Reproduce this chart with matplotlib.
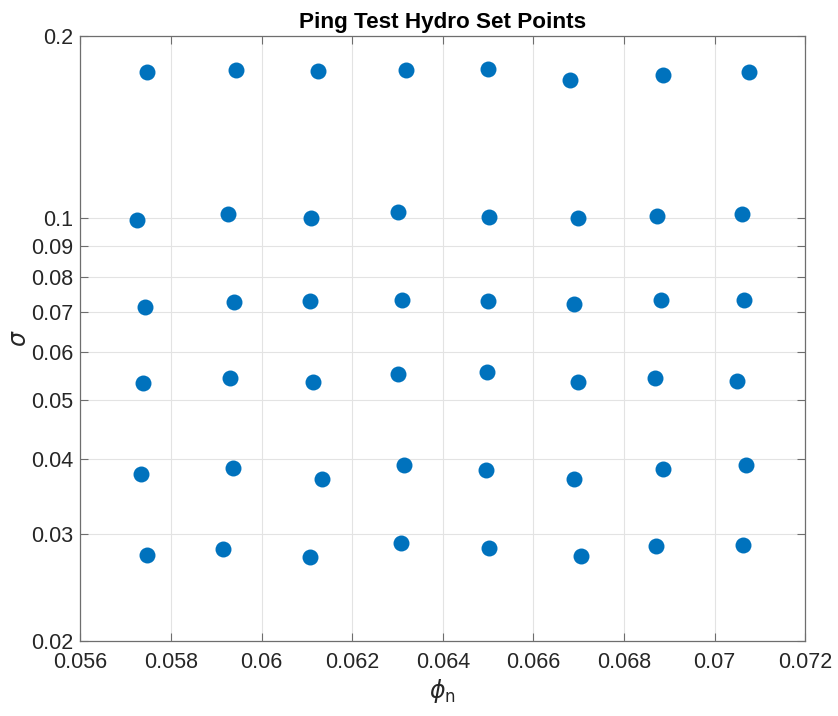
import matplotlib
matplotlib.use("Agg")
import matplotlib.pyplot as plt
from matplotlib.ticker import NullLocator

# Hydro set points: flow coefficient phi_n vs cavitation number sigma
phi_n = [
    0.05747, 0.05944, 0.06125, 0.06319, 0.06500, 0.06680, 0.06886, 0.07076,
    0.05725, 0.05927, 0.06109, 0.06302, 0.06502, 0.06699, 0.06872, 0.07061,
    0.05742, 0.05940, 0.06108, 0.06309, 0.06500, 0.06689, 0.06881, 0.07065,
    0.05738, 0.05930, 0.06114, 0.06302, 0.06498, 0.06698, 0.06869, 0.07049,
    0.05734, 0.05938, 0.06133, 0.06314, 0.06495, 0.06690, 0.06886, 0.07068,
    0.05747, 0.05916, 0.06106, 0.06308, 0.06501, 0.06706, 0.06871, 0.07063,
]
sigma = [
    0.1746, 0.1755, 0.1752, 0.1759, 0.1762, 0.1692, 0.1726, 0.1742,
    0.0994, 0.1016, 0.0999, 0.1023, 0.1004, 0.0999, 0.1009, 0.1014,
    0.0712, 0.0727, 0.0730, 0.0732, 0.0730, 0.0720, 0.0731, 0.0732,
    0.0533, 0.0544, 0.0537, 0.0552, 0.0557, 0.0536, 0.0544, 0.0538,
    0.0377, 0.0386, 0.0371, 0.0391, 0.0383, 0.0371, 0.0385, 0.0391,
    0.0277, 0.0284, 0.0275, 0.0290, 0.0285, 0.0276, 0.0287, 0.0288,
]

x_ticks = [0.056, 0.058, 0.060, 0.062, 0.064, 0.066, 0.068, 0.070, 0.072]
x_labels = ['0.056', '0.058', '0.06', '0.062', '0.064', '0.066', '0.068', '0.07', '0.072']
y_ticks = [0.02, 0.03, 0.04, 0.05, 0.06, 0.07, 0.08, 0.09, 0.1, 0.2]
y_labels = ['0.02', '0.03', '0.04', '0.05', '0.06', '0.07', '0.08', '0.09', '0.1', '0.2']

plt.rcParams['font.family'] = ['Liberation Sans', 'DejaVu Sans']

axis_color = '#262626'

fig = plt.figure(figsize=(8.38, 7.16), dpi=100)
ax = fig.add_axes([0.0958, 0.1047, 0.8652, 0.845])

ax.plot(phi_n, sigma, 'o', color='#0072BD', markersize=11.5, markeredgewidth=0)

ax.set_yscale('log')
ax.set_xlim(0.056, 0.072)
ax.set_ylim(0.02, 0.2)
ax.set_xticks(x_ticks)
ax.set_xticklabels(x_labels)
ax.set_yticks(y_ticks)
ax.set_yticklabels(y_labels)
ax.yaxis.set_minor_locator(NullLocator())

ax.grid(True, color='#e3e3e3', linewidth=0.8)
ax.set_axisbelow(True)
ax.tick_params(axis='both', direction='in', length=6, width=0.8,
               top=True, right=True, labelsize=15.5, colors=axis_color)
ax.tick_params(axis='x', pad=8)
ax.tick_params(axis='y', pad=5)
ax.tick_params(colors='#6e6e6e', labelcolor=axis_color)
for spine in ax.spines.values():
    spine.set_color('#6e6e6e')
    spine.set_linewidth(0.9)

ax.set_title('Ping Test Hydro Set Points', fontsize=16.2, fontweight='bold', pad=6)
ax.set_xlabel(r'$\phi_{\rm n}$', fontsize=17, color=axis_color, labelpad=3)
ax.set_ylabel(r'$\sigma$', fontsize=17, color=axis_color, labelpad=0)

fig.savefig('out.png', dpi=100)
